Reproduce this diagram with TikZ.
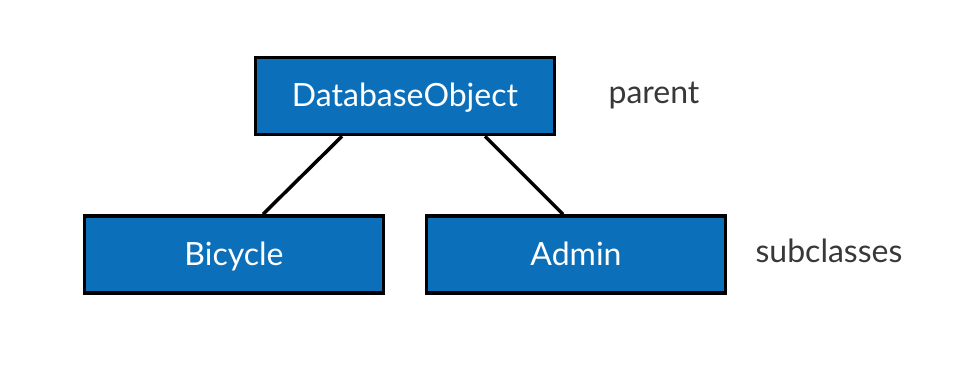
\documentclass[tikz,border=0pt]{standalone}
\usepackage{fontspec}
\setmainfont{Lato}
\definecolor{boxblue}{HTML}{0B6FBA}
\definecolor{labelgray}{HTML}{383838}
\begin{document}
\begin{tikzpicture}[x=1pt,y=1pt,
  classbox/.style={draw=black, line width=3.5pt, fill=boxblue, text=white,
    minimum width=299pt, minimum height=77pt, inner sep=0pt,
    text height=26pt, text depth=4pt,
    font=\fontsize{32}{36}\selectfont},
  sidelabel/.style={text=labelgray, inner sep=0pt,
    text height=23pt, text depth=7pt,
    font=\fontsize{32}{36}\selectfont},
  link/.style={line width=3.5pt, black}]
  \useasboundingbox (0,0) rectangle (959,386);
  \fill[white] (0,0) rectangle (959,386);

  \node[classbox] (db) at (405,290) {DatabaseObject};
  \node[classbox] (bike) at (234,131.5) {Bicycle};
  \node[classbox] (admin) at (576,131.5) {Admin};

  \node[sidelabel] (parent) at (654,290) {parent};
  \node[sidelabel] (sub) at (829,131.5) {subclasses};

  % connector end points along the box edges
  \path (db.south) ++(-63,0) coordinate (dbl);
  \path (db.south) ++(80,0) coordinate (dbr);
  \path (bike.north) ++(29,0) coordinate (bkt);
  \path (admin.north) ++(-13,0) coordinate (adt);
  \draw[link] (dbl) -- (bkt);
  \draw[link] (dbr) -- (adt);
\end{tikzpicture}
\end{document}
